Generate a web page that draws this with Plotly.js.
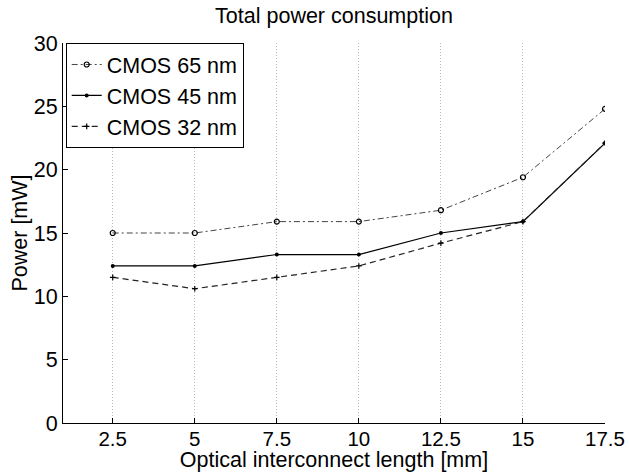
<!DOCTYPE html>
<html>
<head>
<meta charset="utf-8">
<script src="https://cdn.plot.ly/plotly-3.0.1.min.js"></script>
<style>html,body{margin:0;padding:0;background:#fff;}#chart{width:629px;height:472px;}</style>
</head>
<body>
<div id="chart"></div>
<script>
var lengths = [2.5, 5, 7.5, 10, 12.5, 15, 17.5];
var cmos65 = [15.0, 15.0, 15.9, 15.9, 16.8, 19.4, 24.8];
var cmos45 = [12.4, 12.4, 13.3, 13.3, 15.0, 15.9, 22.1];
var cmos32 = [11.5, 10.6, 11.5, 12.4, 14.2, 15.9, 22.1];
var seriesNames = ["CMOS 65 nm", "CMOS 45 nm", "CMOS 32 nm"];
var xTicks = [2.5, 5, 7.5, 10, 12.5, 15, 17.5];
var xTickText = ["2.5", "5", "7.5", "10", "12.5", "15", "17.5"];
var yTicks = [0, 5, 10, 15, 20, 25, 30];

var F = "Liberation Sans, Arial, Helvetica, sans-serif";
var FS = 21.5;
var traces = [
  {x: lengths, y: cmos65, name: seriesNames[0], mode: "lines+markers",
   line: {color: "#444", width: 1, dash: "6px,3px,2px,3px"},
   marker: {symbol: "circle-open", size: 5, color: "#000", line: {width: 1.2, color: "#000"}}},
  {x: lengths, y: cmos45, name: seriesNames[1], mode: "lines+markers",
   line: {color: "#000", width: 1.2},
   marker: {symbol: "circle", size: 4, color: "#000"}},
  {x: lengths, y: cmos32, name: seriesNames[2], mode: "lines+markers",
   line: {color: "#222", width: 1.2, dash: "6px,4px"},
   marker: {symbol: "cross-thin", size: 4, color: "#000", line: {width: 1.2, color: "#000"}}}
];

var layout = {
  width: 629, height: 472,
  paper_bgcolor: "#fff", plot_bgcolor: "#fff",
  margin: {l: 63, r: 24, t: 43, b: 49, pad: 0},
  font: {family: F, size: FS, color: "#000"},
  title: {text: "Total power consumption", font: {family: F, size: FS, color: "#000"},
          x: 0.531, xanchor: "center", y: 0.968, yanchor: "middle"},
  xaxis: {range: [0.985, 17.5], tickvals: xTicks, ticktext: xTickText,
          ticks: "inside", ticklen: 5, tickcolor: "#000", tickwidth: 1,
          showline: true, linecolor: "#000", linewidth: 1, mirror: false,
          showgrid: true, gridcolor: "#bbb", gridwidth: 1, griddash: "1px,2px",
          zeroline: false, tickfont: {family: F, size: 20.5}, ticklabelstandoff: -3,
          title: {text: "Optical interconnect length [mm]", font: {family: F, size: FS}, standoff: 1}},
  yaxis: {range: [0, 30], tickvals: yTicks,
          ticks: "inside", ticklen: 5, tickcolor: "#000", tickwidth: 1,
          showline: true, linecolor: "#000", linewidth: 1, mirror: false,
          showgrid: false, zeroline: false, tickfont: {family: F, size: FS},
          title: {text: "Power [mW]", font: {family: F, size: FS}, standoff: 0}},
  legend: {x: 0.005, y: 1, xanchor: "left", yanchor: "top",
           bgcolor: "#fff", bordercolor: "#000", borderwidth: 1,
           font: {family: F, size: FS}, tracegroupgap: 0, itemwidth: 30},
  showlegend: true
};

Plotly.newPlot("chart", traces, layout, {displayModeBar: false, staticPlot: true});
</script>
</body>
</html>
